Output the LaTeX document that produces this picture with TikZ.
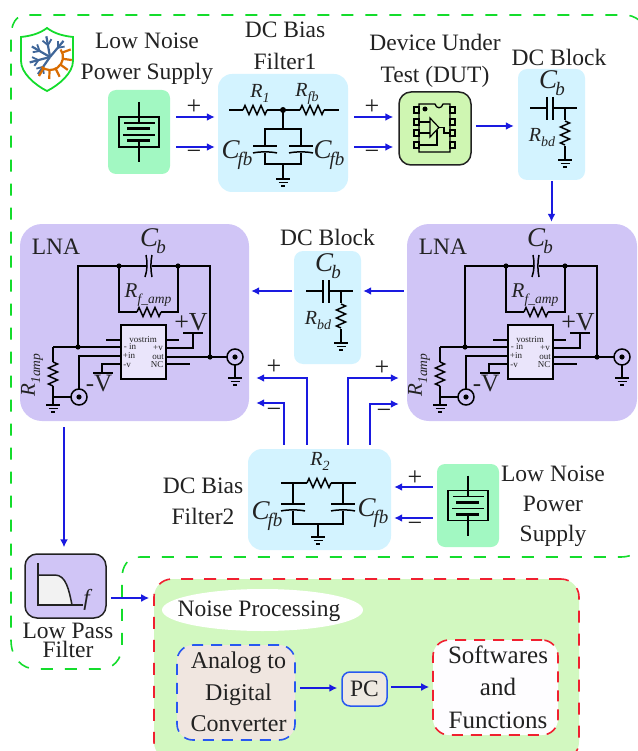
\documentclass[tikz,border=0pt]{standalone}
\usepackage{xcolor}
\usepackage{fontspec}
\setmainfont{Liberation Serif}
\usetikzlibrary{shapes.geometric, arrows.meta}

\definecolor{ink}{HTML}{222222}
\definecolor{flowblue}{HTML}{1A1AE0}
\definecolor{zonegreen}{HTML}{14DC2C}
\definecolor{zonered}{HTML}{F02030}
\definecolor{zoneblue}{HTML}{2858F0}
\definecolor{supplyfill}{HTML}{A2F8C2}
\definecolor{filterfill}{HTML}{D3F3FF}
\definecolor{lnafill}{HTML}{D0C5F6}
\definecolor{dutfill}{HTML}{CFF6B2}
\definecolor{noisefill}{HTML}{D2F8C0}
\definecolor{adcfill}{HTML}{F0E6E0}
\definecolor{pcfill}{HTML}{EEE9E0}

\newcommand{\bodyfont}{\fontsize{23.5}{31.5}\selectfont}
\newcommand{\capsym}[2]{\fontsize{27}{27}\selectfont\textit{#1}\kern-.08em\raisebox{-.28em}{\fontsize{19}{19}\selectfont\textit{#2}}}
\newcommand{\ressym}[2]{\fontsize{20}{20}\selectfont\textit{#1}\raisebox{-.25em}{\fontsize{14}{14}\selectfont\textit{#2}}}

\tikzset{
    every node/.style = {font=\bodyfont, align=center, inner sep=0pt, text=ink},
    panel/.style = {rectangle, rounded corners=14pt},
    wire/.style = {draw=black, line width=1.5pt},
    flow/.style = {draw=flowblue, line width=2pt, -{Latex[length=8pt,width=8pt]}, shorten <=6pt, shorten >=3pt},
    sign/.style = {font=\fontsize{26}{26}\selectfont},
    pinlabel/.style = {font=\fontsize{9}{9}\selectfont},
    gnd/.pic = {
        \draw [wire] (-7,0) -- (7,0);
        \draw [wire] (-4.5,3.5) -- (4.5,3.5);
        \draw [wire] (-2,7) -- (2,7);
    },
    res/.pic = {
        \draw [wire] (-12,0) -- (-10,-4.5) -- (-6,4.5) -- (-2,-4.5) -- (2,4.5) -- (6,-4.5) -- (10,4.5) -- (12,0);
    },
    cap/.pic = {
        \draw [wire] (-12,0) -- (12,0);
        \draw [wire] (-12,7) .. controls (-6,5.5) and (6,5.5) .. (12,7);
    },
    batt/.pic = {
        \draw [wire] (-20,-15) rectangle (20,15);
        \draw [wire] (0,-30) -- (0,-9);
        \draw [wire] (0,9) -- (0,30);
        \draw [wire] (-15,-9) -- (16,-9);
        \draw [wire, line width=3pt] (-12,-3) -- (11,-3);
        \draw [wire] (-16,3) -- (16,3);
        \draw [wire, line width=3pt] (-12,9) -- (11,9);
    },
    dcblk/.pic = {
        \node (-sym) at (552,83) {\capsym{C}{b}};
        \node (-res) at (542,138) {\ressym{R}{bd}};
        \draw [wire] (530,108) -- (547,108);
        \draw [wire] (553,108) -- (577,108);
        \draw [wire] (547,97) -- (547,120);
        \draw [wire] (553,97) -- (553,120);
        \draw [wire] (565,108) -- (565,120);
        \draw [wire] (565,146) -- (565,160);
        \pic at (565,133) [rotate=90] {res};
        \pic at (565,160) {gnd};
    },
    lna/.pic = {
        \node (-title) at (56,247) {LNA};
        \node (-cb) at (153,241) {\capsym{C}{b}};
        \node (-rf) at (148,295) {\fontsize{21}{21}\selectfont\textit{R}\raisebox{-.25em}{\fontsize{13.5}{13.5}\selectfont\textit{f\_amp}}};
        \node (-ri) at (32,375) [rotate=90] {\fontsize{21}{21}\selectfont\textit{R}\raisebox{-.25em}{\fontsize{13.5}{13.5}\selectfont\textit{1amp}}};
        \node (-vp) at (191,322) {\fontsize{26}{26}\selectfont +V};
        \node (-vn) at (99,384) {\fontsize{25}{25}\selectfont -V};
        \draw [wire] (53,347) -- (53,362);
        \draw [wire] (53,386) -- (53,405);
        \draw [wire] (53,397) -- (71,397);
        \draw [wire] (53,347) -- (121,347);
        \draw [wire] (78,347) -- (78,266) -- (146,266);
        \draw [wire] (152,266) -- (210,266) -- (210,357);
        \draw [wire] (119,266) -- (119,312) -- (137,312);
        \draw [wire] (161,312) -- (178,312) -- (178,266);
        \draw [wire] (146,255) .. controls (147.5,262) and (147.5,270) .. (145,277);
        \draw [wire] (152,255) .. controls (150.5,262) and (150.5,270) .. (152,277);
        \pic at (149,312) {res};
        \pic at (53,374) [rotate=90] {res};
        \pic at (53,405) {gnd};
        \pic at (235,378) {gnd};
        \draw [wire, fill=lnafill!45!white] (121,325) rectangle (166,379);
        \draw [wire] (106,340) -- (121,340);
        \draw [wire] (166,340) -- (179,340);
        \draw [wire] (79,389) -- (79,356) -- (121,356);
        \draw [wire] (121,364) -- (102,364) -- (102,373);
        \draw [wire] (93,373) -- (113,373);
        \draw [wire] (166,348) -- (193,348) -- (193,333);
        \draw [wire] (183,333) -- (203,333);
        \draw [wire] (166,357) -- (227,357);
        \draw [wire] (166,364) -- (190,364);
        \draw [wire] (235,365) -- (235,378);
        \draw [wire] (235,357) circle (8);
        \draw [wire] (79,397) circle (8);
        \foreach \x/\y in {119/266, 178/266, 78/347, 210/357, 235/357, 79/397}
            \fill (\x,\y) circle (2.6);
        \foreach \x/\y/\t [count=\i] in {143/340/vostrim, 130/347/- in, 129/356/+in, 127/365/-v, 158/348/+v, 158/357/out, 157/365/NC}
            \node (-pin\i) [pinlabel] at (\x,\y) {\t};
    },
}

\begin{document}
\begin{tikzpicture}[x=1pt, y=-1pt, node distance=50pt]
    \useasboundingbox (0,0) rectangle (637,751);

    \draw [zonegreen, line width=1.6pt, dash pattern=on 12pt off 12pt] (640,21) .. controls (634,16) and (630,15) .. (622,15) -- (26,15) .. controls (16,15) and (11,24) .. (11,37) -- (11,640) .. controls (11,658) and (22,669) .. (36,669) -- (100,669) .. controls (113,669) and (122,660) .. (122,645) -- (122,578) .. controls (122,566) and (128,557) .. (140,557) -- (620,557) .. controls (628,557) and (633,555) .. (640,552);

    \node (supplyA) [panel, fill=supplyfill, rounded corners=8pt, minimum width=62pt, minimum height=84pt] at (139,132) {};
    \node (filterA) [panel, fill=filterfill, minimum width=130pt, minimum height=118pt] at (283,133) {};
    \node (dut) [panel, fill=dutfill, draw=ink, line width=1.5pt, rounded corners=12pt, minimum width=72pt, minimum height=73pt] at (435,128.5) {};
    \node (blockA) [panel, fill=filterfill, rounded corners=9pt, minimum width=67pt, minimum height=111pt] at (551.5,124.5) {};
    \node (lnaL) [panel, fill=lnafill, rounded corners=22pt, minimum width=229pt, minimum height=197pt] at (134.5,322.5) {};
    \node (lnaR) [panel, fill=lnafill, rounded corners=22pt, minimum width=230pt, minimum height=197pt] at (522,322.5) {};
    \node (blockB) [panel, fill=filterfill, rounded corners=9pt, minimum width=67pt, minimum height=113pt] at (327.5,307.5) {};
    \node (filterB) [panel, fill=filterfill, minimum width=143pt, minimum height=101pt] at (319.5,499.5) {};
    \node (supplyB) [panel, fill=supplyfill, rounded corners=8pt, minimum width=62pt, minimum height=83pt] at (468,505.5) {};
    \node (lpf) [panel, fill=lnafill, draw=ink, line width=1.5pt, rounded corners=12pt, minimum width=81pt, minimum height=64pt] at (65.5,586) {};
    \node (noise) [panel, fill=noisefill, draw=zonered, line width=1.6pt, dash pattern=on 12pt off 11pt, rounded corners=18pt, minimum width=425pt, minimum height=181pt] at (366.5,669.5) {};
    \node (noiseText) [ellipse, fill=white, minimum width=201pt, minimum height=42pt] at (262.5,610) {};
    \node (noiseLabel) at (259,611) {Noise Processing};
    \node (adc) [panel, fill=adcfill, draw=zoneblue, line width=1.6pt, dash pattern=on 11pt off 8pt, rounded corners=16pt, minimum width=118pt, minimum height=95pt] at (236,692.5) {};
    \node (adcText) [font=\fontsize{24}{31.5}\selectfont] at (238.5,692) {Analog to\\Digital\\Converter};
    \node (pc) [panel, fill=pcfill, draw=zoneblue, line width=1.5pt, rounded corners=8pt, minimum width=45pt, minimum height=34pt] at (364.5,689) {PC};
    \node (soft) [panel, fill=white!97!lnafill, draw=zonered, line width=1.6pt, dash pattern=on 11pt off 8pt, rounded corners=16pt, minimum width=125pt, minimum height=95pt] at (495.5,687.5) {};
    \node (softText) [font=\fontsize{25}{32.5}\selectfont] at (498,687) {Softwares\\and\\Functions};

    \node (supplyAtext) [above of = supplyA, node distance=73pt, xshift=8pt] {Low Noise\\Power Supply};
    \node (filterAtext) [above of = filterA, node distance=87pt, xshift=2pt] {DC Bias\\Filter1};
    \node (dutText) [above of = dut, node distance=67.5pt] {Device Under\\Test (DUT)};
    \node (blockAtext) [above of = blockA, node distance=67.5pt, xshift=7.5pt] {DC Block};
    \node (blockBtext) [above of = blockB, node distance=70.5pt] {DC Block};
    \node (filterBtext) [left of = filterB, node distance=116.5pt, yshift=-2pt] {DC Bias\\Filter2};
    \node (supplyBtext) [right of = supplyB, node distance=85pt, yshift=-.5pt, font=\fontsize{23.5}{30}\selectfont] {Low Noise\\Power\\Supply};
    \node (lpfText) [below of = lpf, node distance=54pt, xshift=2.5pt, font=\fontsize{23.5}{19}\selectfont] {Low Pass\\Filter};

    \pic at (139,132) {batt};
    \pic at (468,505.5) {batt};
    \pic (blkA) at (0,0) {dcblk};
    \pic (blkB) at (-224,183) {dcblk};
    \pic (ampL) at (0,0) {lna};
    \pic (ampR) at (387,0) {lna};

    \node (r1) at (260,93) {\ressym{R}{1}};
    \node (rfb) at (307,94) {\ressym{R}{fb}};
    \node (cfbA) at (237,155) {\capsym{C}{fb}};
    \node (cfbB) at (329,155) {\capsym{C}{fb}};
    \draw [wire] (229,110) -- (243,110);
    \draw [wire] (267,110) -- (300,110);
    \draw [wire] (324,110) -- (339,110);
    \pic at (255,110) {res};
    \pic at (312,110) {res};
    \fill (283,110) circle (3);
    \draw [wire] (283,110) -- (283,129);
    \draw [wire] (265,146) -- (265,129) -- (301,129) -- (301,146);
    \draw [wire] (265,153) -- (265,164) -- (301,164) -- (301,153);
    \draw [wire] (283,164) -- (283,178);
    \pic at (265,146) {cap};
    \pic at (301,146) {cap};
    \pic at (283,179) {gnd};

    \node (r2) at (320,461) {\ressym{R}{2}};
    \node (cfbC) at (267,516) {\capsym{C}{fb}};
    \node (cfbD) at (373,513) {\capsym{C}{fb}};
    \draw [wire] (281,483) -- (307,483);
    \draw [wire] (331,483) -- (356,483);
    \pic at (319,483) {res};
    \draw [wire] (293,483) -- (293,504);
    \draw [wire] (343,483) -- (343,504);
    \draw [wire] (293,511) -- (293,524) -- (343,524) -- (343,511);
    \draw [wire] (318,524) -- (318,537);
    \pic at (293,504) {cap};
    \pic at (343,504) {cap};
    \pic at (318,537) {gnd};

    \draw [wire, line width=1.3pt] (419,104) -- (435,104) .. controls (436,109) and (442,109) .. (443,104) -- (450,104) -- (450,152) -- (419,152) -- cycle;
    \foreach \y in {110, 122, 133, 145} {
        \draw [wire, line width=1.2pt] (414,\y-3) rectangle (419,\y+3);
        \draw [wire, line width=1.2pt] (450,\y-3) rectangle (455,\y+3);
    }
    \fill (425,109) circle (2.5);
    \draw [wire, line width=1.2pt] (430,118) -- (430,137) -- (439,127.5) -- cycle;
    \draw [wire, line width=1.2pt] (419,122) -- (430,122);
    \draw [wire, line width=1.2pt] (419,133) -- (430,133);
    \draw [wire, line width=1.2pt] (419,145) -- (437,145) -- (437,130);
    \draw [wire, line width=1.2pt] (439,127.5) -- (444,127.5) -- (444,133) -- (450,133);

    \draw [ink, line width=1.5pt, fill=black!5] (38,575) -- (55,575) .. controls (66,575) and (69,590) .. (72,605) -- (38,605) -- cycle;
    \draw [ink, line width=1.5pt] (38,563) -- (38,605) -- (83,605);
    \node (lpfF) at (88,600) {\fontsize{23}{23}\selectfont\textit{f}};

    \begin{scope}[shift={(47,59)}]
        \draw [zonegreen, line width=1.8pt, fill=white] (0,-31) .. controls (-8,-25) and (-17,-23) .. (-26,-22) -- (-26,2) .. controls (-26,14) and (-12,26) .. (0,32) .. controls (12,26) and (26,14) .. (26,2) -- (26,-22) .. controls (17,-23) and (8,-25) .. (0,-31) -- cycle;
        \begin{scope}[shift={(3,-2)}]
            \foreach \a in {-100, -150, 165, 125, -50} {
                \draw [cyan!50!blue!70!black, line width=2.2pt] (0,0) -- (\a:21);
                \draw [cyan!50!blue!70!black, line width=1.8pt] (\a:12) -- ++({\a+40}:7);
                \draw [cyan!50!blue!70!black, line width=1.8pt] (\a:12) -- ++({\a-40}:7);
            }
            \draw [orange!85!black, line width=2.2pt] (-35:13) arc (-35:130:13);
            \foreach \a in {-20, 8, 36, 64, 92, 120}
                \draw [orange!85!black, line width=2.2pt] (\a:13) -- (\a:22);
        \end{scope}
    \end{scope}

    \foreach \x/\y/\t [count=\i] in {194/107/+, 194/155/−, 372/107/+, 372/155/−, 274/367/+, 274/413/−, 382/368/+, 384/414/−, 415/478/+, 415/527/−}
        \node (sign\i) [sign] at (\x,\y) {\t};

    \draw [flow] ([yshift=15pt]supplyA.east) -- ([yshift=16pt]filterA.west);
    \draw [flow] ([yshift=-15pt]supplyA.east) -- ([yshift=-14pt]filterA.west);
    \draw [flow, shorten >=5pt] ([yshift=16pt]filterA.east) -- ([yshift=11.5pt]dut.west);
    \draw [flow, shorten >=5pt] ([yshift=-14pt]filterA.east) -- ([yshift=-18.5pt]dut.west);
    \draw [flow, shorten <=4pt, shorten >=4pt] ([yshift=2.5pt]dut.east) -- ([yshift=-1.5pt]blockA.west);
    \draw [flow, shorten <=1pt, shorten >=2pt] (blockA.south) -- (blockA.south |- lnaR.north);
    \draw [flow, shorten <=3pt, shorten >=2pt] ([yshift=31.5pt]lnaR.west) -- ([yshift=16.5pt]blockB.east);
    \draw [flow, shorten <=2pt, shorten >=2pt] ([yshift=16.5pt]blockB.west) -- ([yshift=31.5pt]lnaL.east);
    \draw [flow, shorten <=4pt, shorten >=7pt] ([xshift=-12.5pt]filterB.north) |- ([yshift=-55.5pt]lnaL.east);
    \draw [flow, shorten <=4pt, shorten >=7pt] ([xshift=-35.5pt]filterB.north) |- ([yshift=-80.5pt]lnaL.east);
    \draw [flow, shorten <=4pt, shorten >=8pt] ([xshift=28.5pt]filterB.north) |- ([yshift=-55.5pt]lnaR.west);
    \draw [flow, shorten <=4pt, shorten >=8pt] ([xshift=50.5pt]filterB.north) |- ([yshift=-81.5pt]lnaR.west);
    \draw [flow, shorten <=4pt] ([yshift=18.5pt]supplyB.west) -- ([yshift=12.5pt]filterB.east);
    \draw [flow, shorten <=4pt] ([yshift=-12.5pt]supplyB.west) -- ([yshift=-18.5pt]filterB.east);
    \draw [flow, line width=1.5pt, shorten >=6pt] ([xshift=-70.5pt]lnaL.south) -- ([xshift=-1.5pt]lpf.north);
    \draw [flow, shorten <=4pt, shorten >=4pt] ([yshift=-12pt]lpf.east) -- ([yshift=71.5pt]noise.west);
    \draw [flow, shorten <=4pt, shorten >=4pt] ([yshift=4.5pt]adc.east) -- ([yshift=1pt]pc.west);
    \draw [flow, shorten <=3pt] ([yshift=2pt]pc.east) -- ([yshift=.5pt]soft.west);
\end{tikzpicture}
\end{document}
